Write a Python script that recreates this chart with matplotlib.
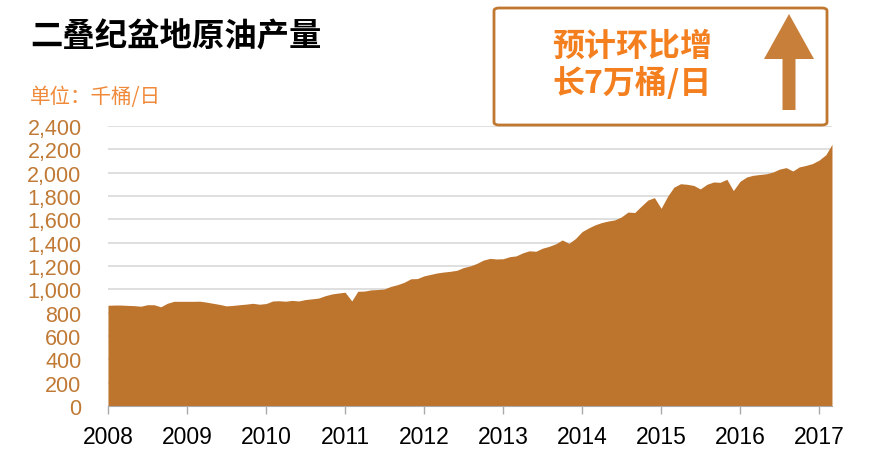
import numpy as np
import pandas as pd
import matplotlib
matplotlib.use("Agg")
import matplotlib.pyplot as plt
from matplotlib.patches import FancyBboxPatch, FancyArrow

plt.rcParams['font.family'] = ['Noto Sans CJK SC', 'DejaVu Sans']

# monthly crude output, thousand barrels per day, Jan 2008 - Mar 2017
y2008 = [863, 865, 865, 862, 860, 855, 868, 868, 850, 880, 897, 897]
y2009 = [897, 897, 898, 890, 880, 870, 858, 862, 868, 873, 880, 872]
y2010 = [878, 900, 902, 898, 905, 900, 912, 918, 925, 945, 960, 968]
y2011 = [975, 900, 983, 985, 995, 998, 1003, 1025, 1040, 1060, 1090, 1092]
y2012 = [1115, 1128, 1140, 1148, 1154, 1163, 1186, 1200, 1222, 1250, 1265, 1260]
y2013 = [1262, 1280, 1286, 1312, 1330, 1326, 1352, 1368, 1390, 1423, 1394, 1435]
y2014 = [1495, 1527, 1552, 1572, 1585, 1595, 1620, 1662, 1658, 1712, 1765, 1786]
y2015 = [1694, 1800, 1875, 1905, 1900, 1890, 1860, 1900, 1920, 1917, 1943, 1846]
y2016 = [1926, 1963, 1977, 1984, 1990, 2005, 2030, 2043, 2014, 2049, 2062, 2078]
y2017 = [2108, 2154, 2243]

values = y2008 + y2009 + y2010 + y2011 + y2012 + y2013 + y2014 + y2015 + y2016 + y2017
dates = pd.date_range('2008-01-01', periods=len(values), freq='MS')
years = list(range(2008, 2018))
yticks = list(range(0, 2401, 200))

fill_c = '#bd742d'
tick_c = '#c07a35'

fig = plt.figure(figsize=(8.7, 4.52), dpi=100)
ax = fig.add_axes([0.1241, 0.0996, 0.8322, 0.6195])

ax.fill_between(dates, values, 0, color=fill_c, linewidth=0, zorder=2)
ax.set_xlim(dates[0], dates[-1])
ax.set_ylim(0, 2400)

ax.set_yticks(yticks)
ax.set_yticklabels([f'{v:,}' for v in yticks], family='Liberation Sans',
                   fontsize=15.5, color=tick_c)
ax.set_xticks(pd.to_datetime([f'{y}-01-01' for y in years]))
ax.set_xticklabels([str(y) for y in years], family='Liberation Sans',
                   fontsize=16.5, color='black')
ax.tick_params(axis='y', length=0, pad=19)
ax.tick_params(axis='x', length=6, color='#aaaaaa', width=1, pad=8)

ax.grid(axis='y', color='#d9d9d9', linewidth=1.2, zorder=1)
ax.set_axisbelow(True)
for s in ['left', 'right', 'top']:
    ax.spines[s].set_visible(False)
ax.spines['bottom'].set_color('#aaaaaa')
ax.spines['bottom'].set_zorder(3)

fig.text(30 / 870, 1 - 37 / 452, '二叠纪盆地原油产量', fontsize=23.3,
         fontweight='bold', color='black', va='center', ha='left')
fig.text(30 / 870, 1 - 97 / 452, '单位：千桶/日', fontsize=14.8,
         color='#f08a3a', va='center', ha='left')

# annotation box
box = FancyBboxPatch((494 / 870, 1 - 126 / 452), 333 / 870, 117 / 452,
                     boxstyle='round,pad=0,rounding_size=0.006',
                     transform=fig.transFigure, facecolor='white',
                     edgecolor='#c0772f', linewidth=2, zorder=5)
fig.patches.append(box)
fig.text(632 / 870, 1 - 47 / 452, '预计环比增', fontsize=23, fontweight='bold',
         color='#f47f1f', ha='center', va='center', zorder=6)
fig.text(632 / 870, 1 - 84 / 452, '长7万桶/日', fontsize=23, fontweight='bold',
         color='#f47f1f', ha='center', va='center', zorder=6)

arr = FancyArrow(789 / 870, 1 - 111 / 452, 0, 96 / 452, width=13 / 870,
                 head_width=50 / 870, head_length=45 / 452,
                 length_includes_head=True, transform=fig.transFigure,
                 color='#c87f3a', linewidth=0, zorder=6)
fig.patches.append(arr)

fig.savefig('out.png', dpi=100)
